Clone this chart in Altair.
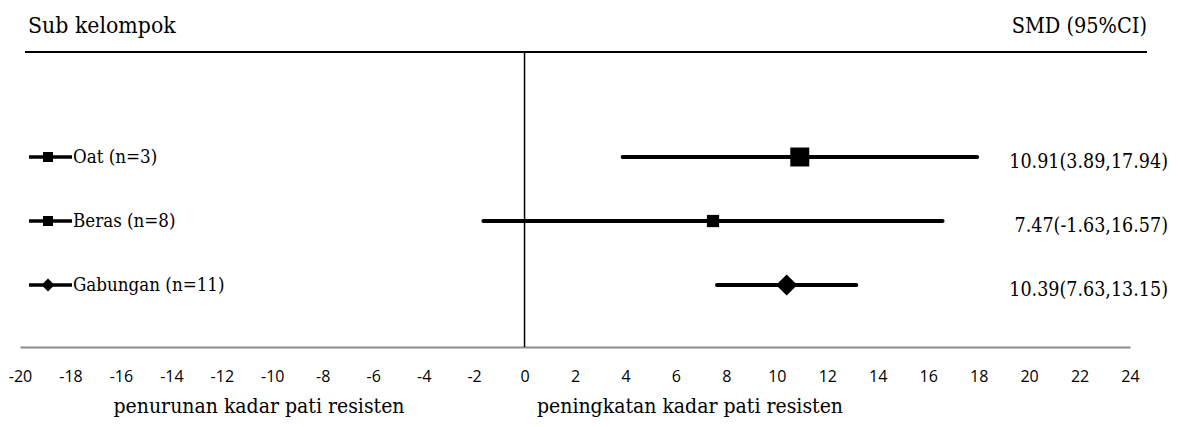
import altair as alt
import pandas as pd

# ---- data ----
groups = ["Oat (n=3)", "Beras (n=8)", "Gabungan (n=11)"]
smd = [10.91, 7.47, 10.39]
ci_low = [3.89, -1.63, 7.63]
ci_high = [17.94, 16.57, 13.15]
x_ticks = list(range(-20, 25, 2))
header_left = "Sub kelompok"
header_right = "SMD (95%CI)"
side_labels = ["penurunan kadar pati resisten", "peningkatan kadar pati resisten"]

df = pd.DataFrame({"group": groups, "smd": smd, "lo": ci_low, "hi": ci_high})
df["label"] = [f"{m:.2f}({l:.2f},{h:.2f})" for m, l, h in zip(smd, ci_low, ci_high)]

SERIF = "DejaVu Serif Condensed, DejaVu Serif"
W, H = 1162, 339

xscale = alt.Scale(domain=[-20, 24], range=[12, 1122], nice=False, zero=False)
yscale = alt.Scale(type="point", domain=groups, range=[149, 277], padding=0)
shape_scale = alt.Scale(type="ordinal", domain=groups, range=["square", "square", "diamond"])
size_scale = alt.Scale(type="ordinal", domain=groups, range=[360, 150, 450])
leg_size_scale = alt.Scale(type="ordinal", domain=groups, range=[100, 100, 170])

Y = alt.Y("group:N", scale=yscale, axis=None)

base = alt.Chart(df)
one = alt.Chart(pd.DataFrame({"k": [0]}))

top_line = one.mark_rule(color="black", strokeWidth=2).encode(
    x=alt.value(17), x2=alt.value(1139), y=alt.value(44)
)
zero_line = one.mark_rule(color="black", strokeWidth=1.5).encode(
    x=alt.datum(0, scale=xscale), y=alt.value(44), y2=alt.value(H)
)

ci = base.mark_rule(color="black", strokeWidth=4, strokeCap="round").encode(
    x=alt.X("lo:Q", scale=xscale,
            axis=alt.Axis(values=x_ticks, title=None, ticks=False, grid=False,
                          domainColor="#8a8a8a", domainWidth=2,
                          labelFont="Open Sans", labelFontSize=16, labelColor="black",
                          labelPadding=21, labelFlush=False,
                          labelExpr="datum.value + ''")),
    x2="hi:Q",
    y=Y,
)
pts = base.mark_point(filled=True, opacity=1, color="black").encode(
    x=alt.X("smd:Q", scale=xscale),
    y=Y,
    shape=alt.Shape("group:N", scale=shape_scale, legend=None),
    size=alt.Size("group:N", scale=size_scale, legend=None),
)

leg_line = base.mark_rule(color="black", strokeWidth=3.5).encode(
    x=alt.value(21), x2=alt.value(64), y=Y,
)
leg_pt = base.mark_point(filled=True, opacity=1, color="black").encode(
    x=alt.value(40), y=Y,
    shape=alt.Shape("group:N", scale=shape_scale, legend=None),
    size=alt.Size("group:N", scale=leg_size_scale, legend=None),
)
leg_txt = base.mark_text(align="left", baseline="middle", font=SERIF, fontSize=18.6,
                         color="black").encode(
    x=alt.value(65), y=Y, text="group:N"
)
val_txt = base.mark_text(align="right", baseline="middle", font=SERIF, fontSize=19.5,
                         color="black", dy=5).encode(
    x=alt.value(1160), y=Y, text="label:N"
)

hdr_l = one.mark_text(text=header_left, align="left", baseline="alphabetic", font=SERIF,
                      fontSize=22.8, color="black").encode(x=alt.value(20), y=alt.value(25))
hdr_r = one.mark_text(text=header_right, align="right", baseline="alphabetic", font=SERIF,
                      fontSize=21.5, color="black").encode(x=alt.value(1139), y=alt.value(25))
bot_l = one.mark_text(text=side_labels[0], align="center", baseline="alphabetic", font=SERIF,
                      fontSize=21, color="black").encode(x=alt.value(251), y=alt.value(405))
bot_r = one.mark_text(text=side_labels[1], align="center", baseline="alphabetic", font=SERIF,
                      fontSize=21, color="black").encode(x=alt.value(682), y=alt.value(405))

chart = alt.layer(
    top_line, zero_line, ci, pts, leg_line, leg_pt, leg_txt, val_txt,
    hdr_l, hdr_r, bot_l, bot_r
).resolve_scale(
    size="independent"
).properties(
    width=W, height=H, autosize=alt.AutoSizeParams(type="none"),
    padding={"left": 0, "top": 0, "right": 0, "bottom": 72},
    background="white"
).configure_view(stroke="transparent", strokeWidth=0)

chart.save("out.html", embed_options={"renderer": "svg", "actions": False})
